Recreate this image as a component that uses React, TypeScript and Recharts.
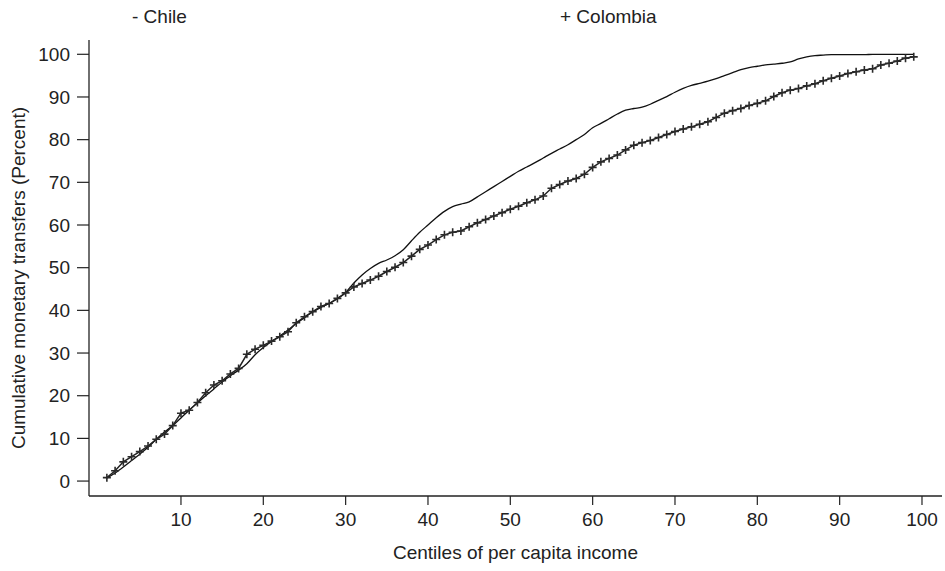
import React from 'react';
import { LineChart, Line, XAxis, YAxis, Label } from 'recharts';

const centiles = [
  1, 2, 3, 4, 5, 6, 7, 8, 9, 10, 11, 12, 13, 14, 15, 16, 17, 18, 19, 20,
  21, 22, 23, 24, 25, 26, 27, 28, 29, 30, 31, 32, 33, 34, 35, 36, 37, 38, 39, 40,
  41, 42, 43, 44, 45, 46, 47, 48, 49, 50, 51, 52, 53, 54, 55, 56, 57, 58, 59, 60,
  61, 62, 63, 64, 65, 66, 67, 68, 69, 70, 71, 72, 73, 74, 75, 76, 77, 78, 79, 80,
  81, 82, 83, 84, 85, 86, 87, 88, 89, 90, 91, 92, 93, 94, 95, 96, 97, 98, 99,
];

const chile = [
  0.7, 1.9, 3.3, 4.8, 6.3, 7.9, 9.8, 11.5, 13.0, 14.8,
  16.6, 18.3, 20.0, 21.6, 23.2, 24.7, 26.0, 27.5, 29.6, 31.3,
  32.7, 34.0, 35.4, 36.9, 38.3, 39.6, 40.7, 41.6, 42.7, 44.2,
  46.4, 48.3, 49.8, 51.0, 51.8, 52.8, 54.2, 56.3, 58.3, 60.0,
  61.7, 63.2, 64.3, 64.9, 65.4, 66.6, 67.8, 69.0, 70.2, 71.4,
  72.6, 73.6, 74.6, 75.7, 76.8, 77.8, 78.8, 80.0, 81.2, 82.8,
  83.8, 84.9, 86.0, 86.9, 87.3, 87.6, 88.3, 89.2, 90.1, 91.1,
  92.0, 92.7, 93.2, 93.7, 94.3, 95.0, 95.7, 96.4, 96.9, 97.2,
  97.5, 97.7, 97.9, 98.2, 98.9, 99.4, 99.7, 99.8, 99.9, 99.9,
  99.9, 99.9, 99.9, 100, 100, 100, 100, 100, 100,
];

const colombia = [
  0.8, 2.4, 4.5, 5.7, 6.9, 8.2, 9.8, 11.0, 13.0, 15.9,
  16.6, 18.4, 20.7, 22.5, 23.5, 25.1, 26.4, 29.7, 30.9, 31.8,
  32.8, 33.8, 35.0, 37.1, 38.5, 39.7, 40.9, 41.6, 42.8, 44.1,
  45.5, 46.3, 47.1, 48.0, 49.1, 50.1, 51.2, 52.7, 54.3, 55.3,
  56.6, 57.7, 58.3, 58.6, 59.6, 60.5, 61.3, 62.1, 62.9, 63.7,
  64.4, 65.2, 65.9, 66.8, 68.6, 69.5, 70.3, 70.9, 71.9, 73.5,
  74.8, 75.6, 76.4, 77.6, 78.7, 79.3, 79.8, 80.5, 81.2, 81.9,
  82.5, 83.0, 83.6, 84.2, 85.2, 86.2, 86.8, 87.3, 88.0, 88.5,
  89.1, 90.1, 91.0, 91.6, 92.0, 92.6, 93.1, 93.8, 94.4, 94.9,
  95.5, 95.9, 96.3, 96.6, 97.5, 97.9, 98.4, 99.1, 99.4,
];

const xTicks = [10, 20, 30, 40, 50, 60, 70, 80, 90, 100];
const yTicks = [0, 10, 20, 30, 40, 50, 60, 70, 80, 90, 100];
const legendLabels = ['- Chile', '+ Colombia'];
const xTitle = 'Centiles of per capita income';
const yTitle = 'Cumulative monetary transfers (Percent)';

const data = centiles.map((c, i) => ({ centile: c, chile: chile[i], colombia: colombia[i] }));

const FONT = '"Liberation Sans", Arial, Helvetica, sans-serif';
const INK = '#222';

const PlusDot = (props: any) => {
  const { cx, cy, index } = props;
  if (cx == null || cy == null) return null;
  return (
    <path
      key={`plus-${index}`}
      d={`M${cx - 4},${cy}H${cx + 4}M${cx},${cy - 4}V${cy + 4}`}
      stroke="#2a2a2a"
      strokeWidth={1.6}
      fill="none"
    />
  );
};

export default function App() {
  return (
    <div style={{ position: 'absolute', left: 0, top: 0, width: 945, height: 571, background: '#fff' }}>
      <LineChart
        width={945}
        height={571}
        data={data}
        margin={{ top: 40, right: 3, bottom: 0, left: 0 }}
      >
        <XAxis
          dataKey="centile"
          type="number"
          domain={[-1.17, 102.43]}
          allowDataOverflow
          ticks={xTicks}
          interval={0}
          height={75}
          tickSize={9}
          tickMargin={8}
          stroke={INK}
          tick={{ fill: INK, fontSize: 19, fontFamily: FONT }}
          axisLine={{ stroke: INK, strokeWidth: 1.3 }}
          tickLine={{ stroke: INK, strokeWidth: 1.2 }}
        >
          <Label
            content={(p: any) => {
              const vb = p.viewBox || {};
              return (
                <text
                  x={vb.x + vb.width / 2}
                  y={559}
                  textAnchor="middle"
                  fill={INK}
                  fontSize={19}
                  fontFamily={FONT}
                >
                  {xTitle}
                </text>
              );
            }}
          />
        </XAxis>
        <YAxis
          type="number"
          domain={[-3.5, 103.35]}
          allowDataOverflow
          ticks={yTicks}
          interval={0}
          width={89}
          tickSize={12}
          tickMargin={7}
          stroke={INK}
          tick={{ fill: INK, fontSize: 19, fontFamily: FONT }}
          axisLine={{ stroke: INK, strokeWidth: 1.3 }}
          tickLine={{ stroke: INK, strokeWidth: 1.2 }}
        >
          <Label
            content={() => (
              <text
                x={25}
                y={278}
                transform="rotate(-90 25 278)"
                textAnchor="middle"
                fill={INK}
                fontSize={19}
                fontFamily={FONT}
              >
                {yTitle}
              </text>
            )}
          />
        </YAxis>
        <Line
          type="monotone"
          dataKey="chile"
          stroke="#111"
          strokeWidth={1.3}
          dot={false}
          activeDot={false}
          isAnimationActive={false}
        />
        <Line
          type="linear"
          dataKey="colombia"
          stroke="#222"
          strokeWidth={1.5}
          dot={PlusDot}
          activeDot={false}
          isAnimationActive={false}
        />
      </LineChart>
      <svg
        width={945}
        height={40}
        style={{ position: 'absolute', left: 0, top: 0, pointerEvents: 'none' }}
      >
        <text x={132} y={23} fill={INK} fontSize={19} fontFamily={FONT}>
          {legendLabels[0]}
        </text>
        <text x={560} y={23} fill={INK} fontSize={19} fontFamily={FONT}>
          {legendLabels[1]}
        </text>
      </svg>
    </div>
  );
}
